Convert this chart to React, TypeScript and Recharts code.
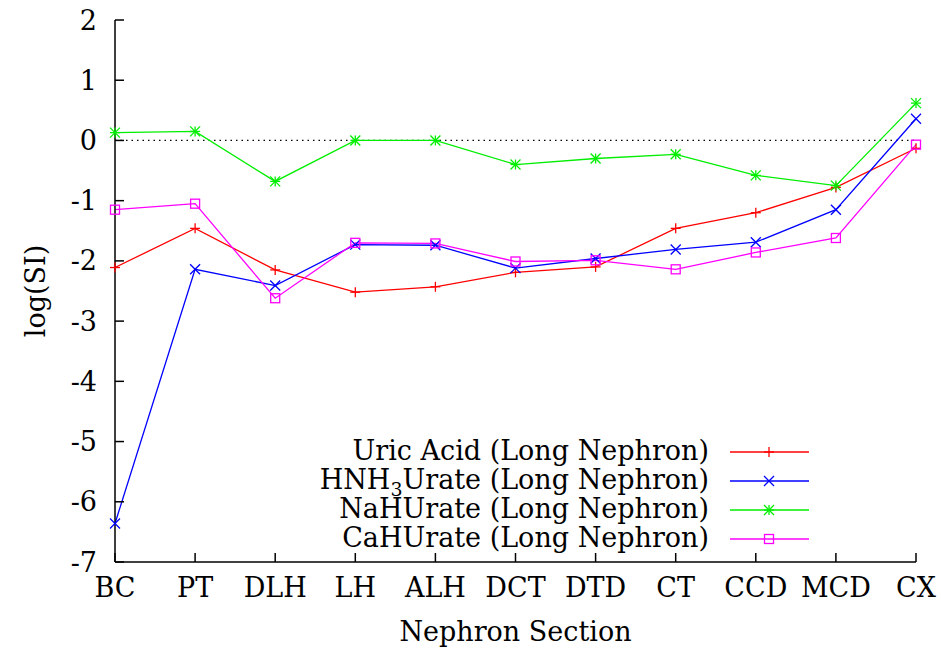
import React from 'react';
import { LineChart, Line, XAxis, YAxis, ReferenceLine, Legend } from 'recharts';

// nephron sections along the x axis
const sections = ['BC', 'PT', 'DLH', 'LH', 'ALH', 'DCT', 'DTD', 'CT', 'CCD', 'MCD', 'CX'];

// log(SI) per section, long nephron
const uricAcid = [-2.11, -1.46, -2.15, -2.52, -2.43, -2.19, -2.1, -1.46, -1.2, -0.78, -0.13];
const hnh3Urate = [-6.36, -2.14, -2.41, -1.73, -1.74, -2.12, -1.96, -1.81, -1.69, -1.15, 0.36];
const naHUrate = [0.13, 0.15, -0.68, 0.0, 0.0, -0.4, -0.3, -0.23, -0.58, -0.75, 0.62];
const caHUrate = [-1.15, -1.05, -2.62, -1.7, -1.71, -2.01, -1.99, -2.14, -1.86, -1.62, -0.07];

const yTicks = [-7, -6, -5, -4, -3, -2, -1, 0, 1, 2];
const xTicks = sections.map((_, i) => i);

const data = sections.map((s, i) => ({
  idx: i,
  section: s,
  uric: uricAcid[i],
  hnh3: hnh3Urate[i],
  nah: naHUrate[i],
  cah: caHUrate[i],
}));

const FONT = 'DejaVu Serif';
const FS = 27;

type MarkerKind = 'plus' | 'cross' | 'star' | 'square';

const Marker = ({ cx, cy, kind, color }: { cx: number; cy: number; kind: MarkerKind; color: string }) => {
  const r = 5;
  if (kind === 'plus') {
    return (
      <g stroke={color} strokeWidth={1.3}>
        <line x1={cx - r} y1={cy} x2={cx + r} y2={cy} />
        <line x1={cx} y1={cy - r} x2={cx} y2={cy + r} />
      </g>
    );
  }
  if (kind === 'cross') {
    return (
      <g stroke={color} strokeWidth={1.3}>
        <line x1={cx - r} y1={cy - r} x2={cx + r} y2={cy + r} />
        <line x1={cx - r} y1={cy + r} x2={cx + r} y2={cy - r} />
      </g>
    );
  }
  if (kind === 'star') {
    return (
      <g stroke={color} strokeWidth={1.3}>
        <line x1={cx - r} y1={cy} x2={cx + r} y2={cy} />
        <line x1={cx} y1={cy - r} x2={cx} y2={cy + r} />
        <line x1={cx - r} y1={cy - r} x2={cx + r} y2={cy + r} />
        <line x1={cx - r} y1={cy + r} x2={cx + r} y2={cy - r} />
      </g>
    );
  }
  return <rect x={cx - 4.5} y={cy - 4.5} width={9} height={9} fill="none" stroke={color} strokeWidth={1.3} />;
};

const series: { key: string; name: string; color: string; marker: MarkerKind }[] = [
  { key: 'uric', name: 'Uric Acid (Long Nephron)', color: '#ff0000', marker: 'plus' },
  { key: 'hnh3', name: 'HNH3Urate (Long Nephron)', color: '#0000ff', marker: 'cross' },
  { key: 'nah', name: 'NaHUrate (Long Nephron)', color: '#00ee00', marker: 'star' },
  { key: 'cah', name: 'CaHUrate (Long Nephron)', color: '#ff00ff', marker: 'square' },
];

const LegendBox = () => (
  <svg width={942} height={654} style={{ position: 'absolute', left: 0, top: 0, pointerEvents: 'none' }}>
    {series.map((s, i) => {
      const y = 452 + i * 29;
      return (
        <g key={s.key}>
          <text x={709} y={y + 8} textAnchor="end" style={{ fontFamily: FONT, fontSize: FS }} fill="#000">
            {s.key === 'hnh3' ? (
              <>
                HNH<tspan style={{ fontSize: 19 }} dy={7}>3</tspan>
                <tspan dy={-7}>Urate (Long Nephron)</tspan>
              </>
            ) : (
              s.name
            )}
          </text>
          <line x1={730} y1={y} x2={809} y2={y} stroke={s.color} strokeWidth={1.3} />
          <Marker cx={769} cy={y} kind={s.marker} color={s.color} />
        </g>
      );
    })}
  </svg>
);

const tickStyle = { fontFamily: FONT, fontSize: FS, fill: '#000' };
const noTick = () => <g />;

export default function App() {
  return (
    <div style={{ position: 'absolute', left: 0, top: 0, fontFamily: FONT }}>
      <LineChart width={942} height={654} data={data} margin={{ top: 20, right: 26, left: 0, bottom: 0 }}>
        <XAxis
          xAxisId="bottom"
          dataKey="idx"
          type="number"
          domain={[0, 10]}
          ticks={xTicks}
          interval={0}
          tickFormatter={(v: number) => sections[v]}
          height={92}
          tick={tickStyle}
          tickSize={-9}
          tickMargin={25}
          stroke="#000"
          strokeWidth={1.5}
          label={{
            value: 'Nephron Section',
            position: 'insideBottom',
            offset: 13,
            style: { fontFamily: FONT, fontSize: FS, fill: '#000' },
          }}
        />
        <XAxis
          xAxisId="top"
          orientation="top"
          dataKey="idx"
          type="number"
          domain={[0, 10]}
          ticks={xTicks}
          interval={0}
          height={0}
          tick={noTick}
          tickSize={-9}
          stroke="#000"
          strokeWidth={1.5}
        />
        <YAxis
          yAxisId="left"
          type="number"
          domain={[-7, 2]}
          ticks={yTicks}
          interval={0}
          width={115}
          tick={tickStyle}
          tickSize={-9}
          tickMargin={27}
          tickFormatter={(v: number) => String(v)}
          stroke="#000"
          strokeWidth={1.5}
          label={{
            content: (props: any) => {
              const vb = props.viewBox || { x: 0, y: 20, width: 115, height: 542 };
              const cx = vb.x + 35;
              const cy = vb.y + vb.height / 2;
              return (
                <text
                  x={cx}
                  y={cy}
                  transform={`rotate(-90 ${cx} ${cy})`}
                  textAnchor="middle"
                  dy={10}
                  style={{ fontFamily: FONT, fontSize: FS }}
                  fill="#000"
                >
                  log(SI)
                </text>
              );
            },
          }}
        />
        <YAxis
          yAxisId="right"
          orientation="right"
          type="number"
          domain={[-7, 2]}
          ticks={yTicks}
          interval={0}
          width={0}
          tick={noTick}
          tickSize={-9}
          stroke="#000"
          strokeWidth={1.5}
        />
        <ReferenceLine xAxisId="bottom" yAxisId="left" y={0} stroke="#000" strokeWidth={1.2} strokeDasharray="1.5 4" />
        <Legend layout="vertical" align="center" verticalAlign="middle" content={() => <LegendBox />} wrapperStyle={{ left: 0, top: 0, width: 942, height: 654 }} />
        {series.map(s => (
          <Line
            key={s.key}
            xAxisId="bottom"
            yAxisId="left"
            type="linear"
            dataKey={s.key}
            name={s.name}
            stroke={s.color}
            strokeWidth={1.3}
            isAnimationActive={false}
            dot={(p: any) => <Marker key={`${s.key}-${p.index}`} cx={p.cx} cy={p.cy} kind={s.marker} color={s.color} />}
            activeDot={false}
          />
        ))}
      </LineChart>
    </div>
  );
}
